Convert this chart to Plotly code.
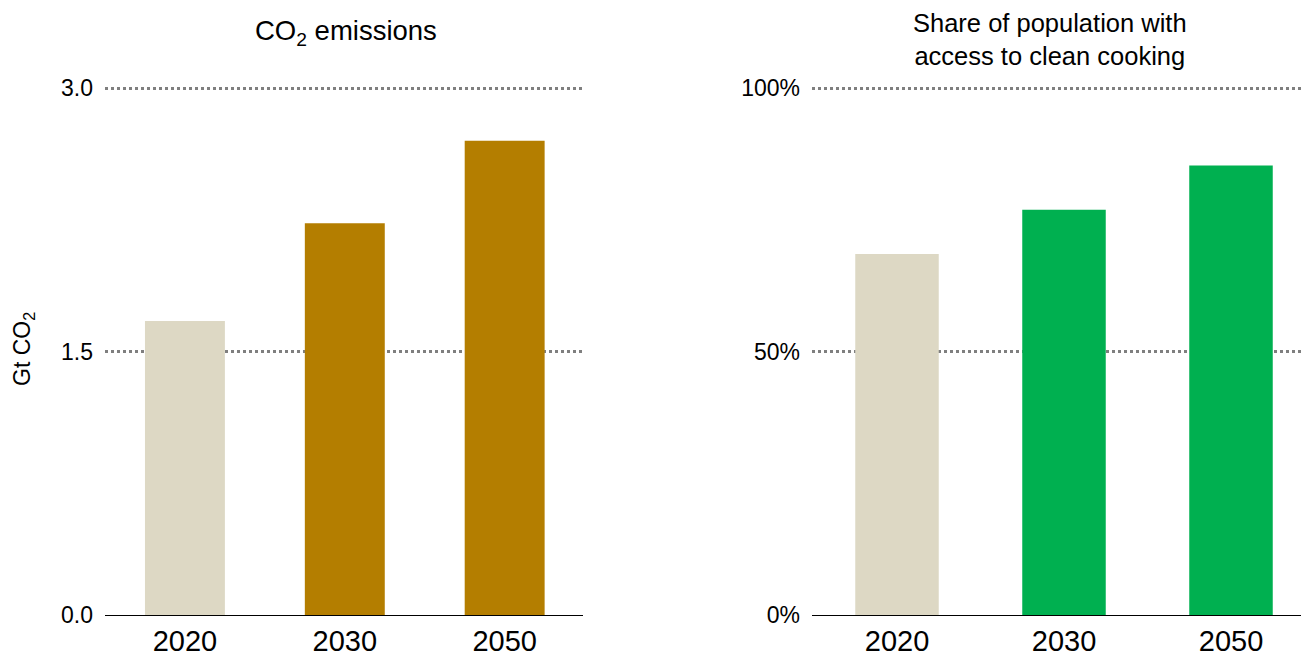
import plotly.graph_objects as go

years = ["2020", "2030", "2050"]
co2_values = [1.674, 2.23, 2.70]
clean_cooking_share = [68.5, 76.9, 85.3]
co2_colors = ["#DDD8C4", "#B47E00", "#B47E00"]
cooking_colors = ["#DDD8C4", "#00B050", "#00B050"]
co2_ticks = [0.0, 1.5, 3.0]
co2_ticktext = ["0.0", "1.5", "3.0"]
share_ticks = [0, 50, 100]
share_ticktext = ["0%", "50%", "100%"]

FONT = "Liberation Sans, Arial, sans-serif"
W, H = 1309, 656
OFF = 8  # page margin offset of the plot div


def fx(px):
    return (px - OFF) / W


def fy(px):
    return 1 - (px - OFF) / H


fig = go.Figure()
fig.add_trace(go.Bar(x=years, y=co2_values, marker=dict(color=co2_colors, line=dict(width=0)),
                     width=0.5, xaxis="x", yaxis="y", showlegend=False, hoverinfo="x+y"))
fig.add_trace(go.Bar(x=years, y=clean_cooking_share, marker=dict(color=cooking_colors, line=dict(width=0)),
                     width=0.5, xaxis="x2", yaxis="y2", showlegend=False, hoverinfo="x+y"))

top_px = 82
extra = (88 - top_px) / (615 - 88)

common_y = dict(showgrid=True, gridcolor="#7F7F7F", gridwidth=2.5, griddash="dot",
                zeroline=False, showline=False, ticks="", ticklabelstandoff=11,
                automargin=False, tickfont=dict(size=23, color="black", family=FONT))
common_x = dict(showgrid=False, showline=True, linecolor="black", linewidth=1,
                ticks="", automargin=False, tickfont=dict(size=29, color="black", family=FONT),
                ticklabelstandoff=0)

fig.update_layout(
    width=W, height=H,
    margin=dict(l=0, r=0, t=0, b=0, autoexpand=False),
    paper_bgcolor="white", plot_bgcolor="white",
    font=dict(family=FONT, color="black"),
    xaxis=dict(domain=[fx(105), fx(583)], anchor="y", range=[-0.5, 2.49], **common_x),
    yaxis=dict(domain=[fy(615), fy(top_px)], range=[0, 3.0 * (1 + extra)], tickvals=co2_ticks,
               ticktext=co2_ticktext, anchor="x", **common_y),
    xaxis2=dict(domain=[fx(812), 1.0], anchor="y2", range=[-0.509, 2.515], **common_x),
    yaxis2=dict(domain=[fy(615), fy(top_px)], range=[0, 100 * (1 + extra)], tickvals=share_ticks,
                ticktext=share_ticktext, anchor="x2", **common_y),
    annotations=[
        dict(text="CO<sub>2</sub> emissions", x=fx(346), y=fy(32),
             xref="paper", yref="paper", showarrow=False, font=dict(size=27.5, family=FONT),
             xanchor="center", yanchor="middle"),
        dict(text="Share of population with<br>access to clean cooking", x=fx(1050),
             y=1.0, xref="paper", yref="paper", showarrow=False, borderpad=0,
             font=dict(size=25.5, family=FONT), xanchor="center", yanchor="top"),
        dict(text="Gt CO<sub>2</sub>", x=fx(23), y=fy(349), xref="paper", yref="paper",
             showarrow=False, textangle=-90, font=dict(size=23, family=FONT),
             xanchor="center", yanchor="middle"),
    ],
)

fig.write_html("out.html")
